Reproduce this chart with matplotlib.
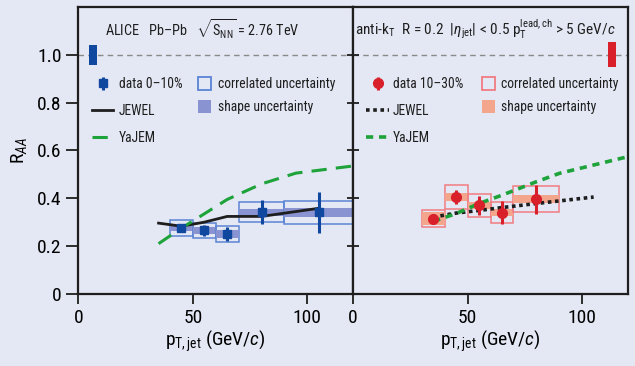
#!/usr/bin/env python3
"""ALICE jet R_AA (0-10% and 10-30%) compared with JEWEL and YaJEM."""

import matplotlib
matplotlib.use('Agg')
import matplotlib.pyplot as plt
from matplotlib.patches import Rectangle, Patch

# ---- data ----
# 0-10% centrality
pt_010 = [45, 55, 65, 80, 105]
pt_lo_010 = [40, 50, 60, 70, 90]
pt_hi_010 = [50, 60, 70, 90, 120]
raa_010 = [0.277, 0.266, 0.251, 0.341, 0.341]
stat_010 = [0.015, 0.022, 0.030, 0.050, 0.085]
corr_010 = [0.033, 0.031, 0.032, 0.042, 0.048]
shape_010 = [0.013, 0.015, 0.017, 0.016, 0.020]

# 10-30% centrality
pt_1030 = [35, 45, 55, 65, 80]
pt_lo_1030 = [30, 40, 50, 60, 70]
pt_hi_1030 = [40, 50, 60, 70, 90]
raa_1030 = [0.315, 0.405, 0.370, 0.340, 0.396]
stat_1030 = [0.010, 0.031, 0.039, 0.047, 0.061]
corr_1030 = [0.034, 0.052, 0.048, 0.044, 0.054]
shape_1030 = [0.028, 0.016, 0.016, 0.014, 0.017]

# models
jewel_pt_010 = [35, 45, 55, 65, 80, 105]
jewel_010 = [0.296, 0.283, 0.300, 0.324, 0.324, 0.358]
yajem_pt_010 = [35, 45, 55, 65, 80, 95, 120]
yajem_010 = [0.210, 0.275, 0.335, 0.395, 0.460, 0.505, 0.535]
jewel_pt_1030 = [35, 45, 55, 65, 80, 105]
jewel_1030 = [0.321, 0.338, 0.349, 0.361, 0.378, 0.405]
yajem_pt_1030 = [35, 45, 55, 65, 80, 90, 105, 120]
yajem_1030 = [0.303, 0.336, 0.378, 0.413, 0.469, 0.504, 0.539, 0.574]

# normalisation uncertainty boxes at R_AA = 1
norm_010 = 0.042
norm_1030 = 0.052

yticks = [0, 0.2, 0.4, 0.6, 0.8, 1.0]
ytick_labels = ['0', '0.2', '0.4', '0.6', '0.8', '1.0']
xticks = [0, 50, 100]

# ---- style ----
bg = '#e4e8f4'
ink = '#1e1e1e'
blue = '#1048a0'
blue_box = '#5b84d4'
blue_fill = '#8a93d2'
red = '#d81f2a'
red_box = '#f27c82'
red_fill = '#f3a68c'
green = '#1ea23a'

fam = 'Roboto Condensed'
plt.rcParams['font.family'] = [fam, 'Liberation Sans', 'DejaVu Sans']
plt.rcParams['mathtext.fontset'] = 'custom'
plt.rcParams['mathtext.rm'] = fam
plt.rcParams['mathtext.it'] = fam + ':italic'
plt.rcParams['mathtext.sf'] = fam
plt.rcParams['text.color'] = ink

fig = plt.figure(figsize=(6.35, 3.66), dpi=100, facecolor=bg)
axL = fig.add_axes([0.1236, 0.197, 0.4324, 0.784])
axR = fig.add_axes([0.556, 0.197, 0.433, 0.784])

for ax in (axL, axR):
    ax.set_facecolor(bg)
    ax.set_xlim(0, 120)
    ax.set_ylim(0, 1.2)
    ax.set_xticks(xticks)
    ax.set_xticklabels([str(t) for t in xticks], fontsize=14)
    ax.tick_params(axis='x', direction='out', length=7, width=1.3, color=ink, pad=4)
    for s in ax.spines.values():
        s.set_linewidth(1.6)
        s.set_color(ink)
    ax.axhline(1.0, color='#8a8a8a', lw=1, ls=(0, (4, 3)), zorder=1)
    ax.set_xlabel(r'p$_{\mathrm{T,jet}}$ (GeV/$c$)', fontsize=14, labelpad=1)

axL.set_yticks(yticks)
axL.set_yticklabels(ytick_labels, fontsize=14)
axL.tick_params(axis='y', direction='out', length=9, width=1.3, color=ink, pad=3)
axL.set_ylabel(r'R$_{AA}$', fontsize=14, labelpad=6)
axR.set_yticks(yticks)
axR.set_yticklabels([])
axR.tick_params(axis='y', direction='inout', length=9, width=1.3, color=ink)


def draw_data(ax, pt, lo, hi, raa, stat, corr, shape, col, box_col, fill_col, marker, ms):
    for x0, x1, y, c, s in zip(lo, hi, raa, corr, shape):
        ax.add_patch(Rectangle((x0, y - c), x1 - x0, 2 * c, facecolor='none',
                               edgecolor=box_col, lw=1.1, zorder=2, clip_on=False))
        ax.add_patch(Rectangle((x0, y - s), x1 - x0, 2 * s, facecolor=fill_col,
                               edgecolor='none', lw=0, zorder=2))
    return ax.errorbar(pt, raa, yerr=stat, fmt=marker, ms=ms, color=col,
                       elinewidth=2.2, capsize=0, zorder=5)


eb_L = draw_data(axL, pt_010, pt_lo_010, pt_hi_010, raa_010, stat_010, corr_010,
                 shape_010, blue, blue_box, blue_fill, 's', 6)
eb_R = draw_data(axR, pt_1030, pt_lo_1030, pt_hi_1030, raa_1030, stat_1030, corr_1030,
                 shape_1030, red, red_box, red_fill, 'o', 7)

jL, = axL.plot(jewel_pt_010, jewel_010, color=ink, lw=2, zorder=4)
yL, = axL.plot(yajem_pt_010, yajem_010, color=green, lw=2.2, ls=(0, (5, 3)), zorder=4)
jR, = axR.plot(jewel_pt_1030, jewel_1030, color=ink, lw=2.6, ls=(0, (1, 1)), zorder=4)
yR, = axR.plot(yajem_pt_1030, yajem_1030, color=green, lw=2.6, ls=(0, (2, 1.6)), zorder=4)

# normalisation boxes
axL.add_patch(Rectangle((4.6, 1 - norm_010), 3.3, 2 * norm_010, facecolor=blue,
                        edgecolor='none', zorder=5))
axR.add_patch(Rectangle((111.3, 1 - norm_1030), 3.4, 2 * norm_1030, facecolor=red,
                        edgecolor='none', zorder=5))

# header texts
axL.text(0.097, 0.922, r'ALICE   Pb–Pb   $\sqrt{\mathrm{S}_{\mathrm{NN}}}$ = 2.76 TeV',
         transform=axL.transAxes, fontsize=10.3, va='center', ha='left')
axR.text(0.008, 0.922,
         r'anti-k$_{\mathrm{T}}$  R = 0.2  |$\eta_{\mathrm{jet}}$| < 0.5 '
         r'p$_{\mathrm{T}}^{\mathrm{lead,ch}}$ > 5 GeV/$c$',
         transform=axR.transAxes, fontsize=11, va='center', ha='left')

# legends
leg_kw = dict(frameon=False, fontsize=9.8, borderpad=0, borderaxespad=0)
l1 = axL.legend([eb_L, jL, yL], ['data 0–10%', 'JEWEL', 'YaJEM'], loc='upper left',
                bbox_to_anchor=(0.048, 0.755), handlelength=1.6, handletextpad=0.4,
                labelspacing=0.93, **leg_kw)
axL.add_artist(l1)
axL.legend([Patch(facecolor='none', edgecolor=blue_box, lw=1.3),
            Patch(facecolor=blue_fill, edgecolor='none')],
           ['correlated uncertainty', 'shape uncertainty'], loc='upper left',
           bbox_to_anchor=(0.434, 0.755), handlelength=0.95, handleheight=1.05,
           handletextpad=0.55, labelspacing=0.65, **leg_kw)

l2 = axR.legend([eb_R, jR, yR], ['data 10–30%', 'JEWEL', 'YaJEM'], loc='upper left',
                bbox_to_anchor=(0.047, 0.755), handlelength=1.7, handletextpad=0.25,
                labelspacing=0.93, **leg_kw)
axR.add_artist(l2)
axR.legend([Patch(facecolor='none', edgecolor=red_box, lw=1.3),
            Patch(facecolor=red_fill, edgecolor='none')],
           ['correlated uncertainty', 'shape uncertainty'], loc='upper left',
           bbox_to_anchor=(0.47, 0.755), handlelength=0.95, handleheight=1.05,
           handletextpad=0.4, labelspacing=0.65, **leg_kw)

fig.savefig('out.png', dpi=100, facecolor=bg)
plt.close()
